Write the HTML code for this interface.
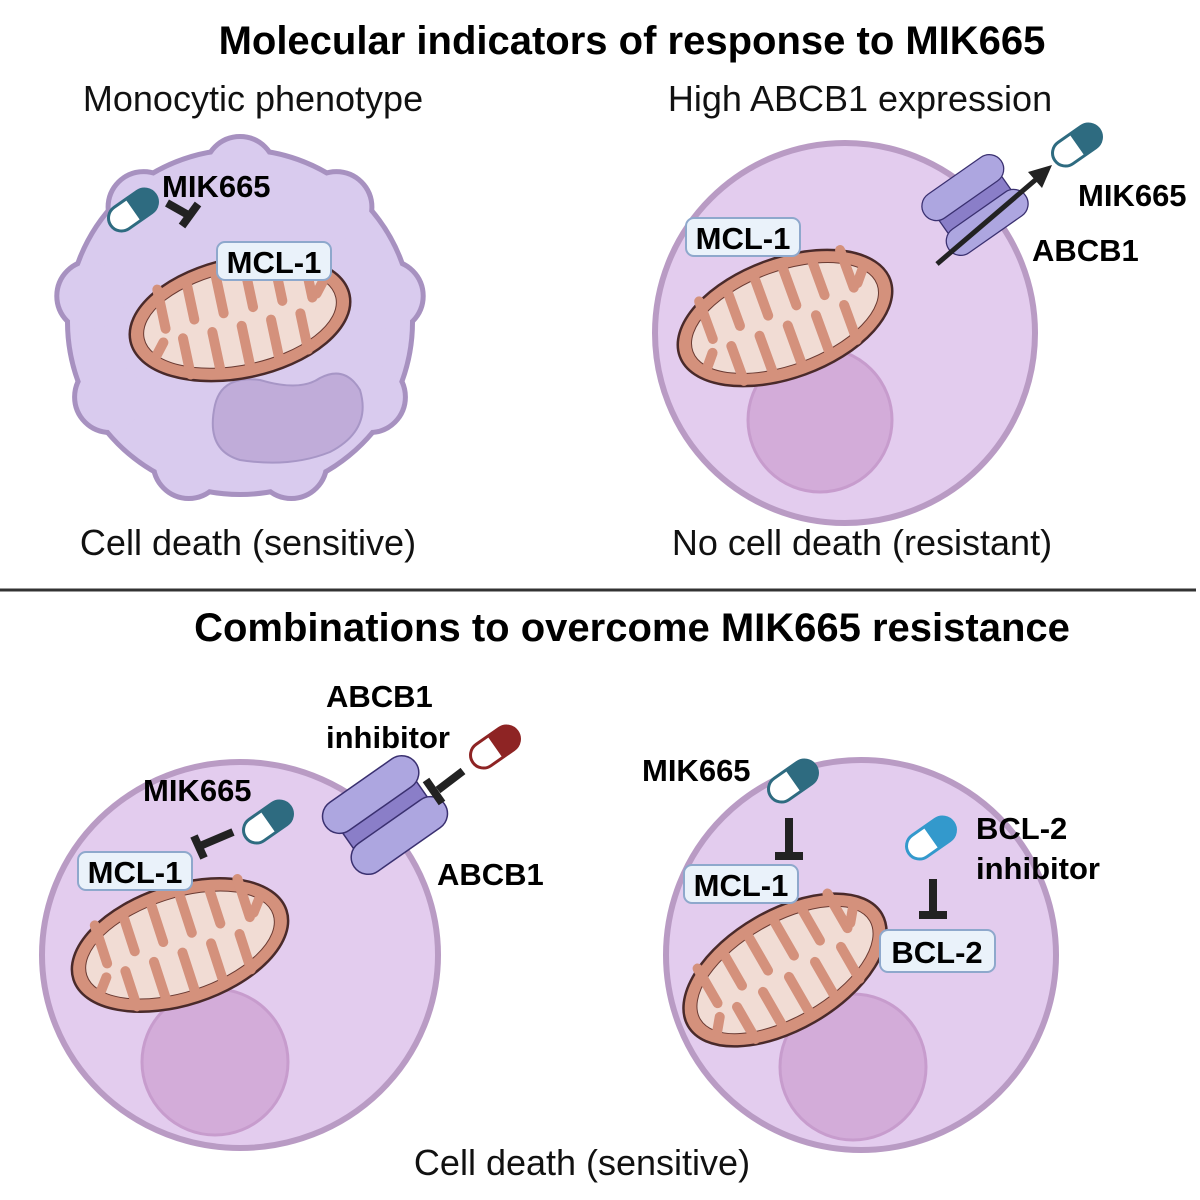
<!DOCTYPE html>
<html><head><meta charset="utf-8"><style>
html,body{margin:0;padding:0;background:#fff;}
svg{display:block}
text{font-family:"Liberation Sans",Arial,sans-serif;}
.t{font-weight:bold;font-size:40px;fill:#000;}
.s{font-size:36px;fill:#111;}
.b{font-weight:bold;font-size:31px;fill:#000;}
.lbl{font-weight:bold;font-size:31px;fill:#000;}
</style></head><body>
<svg width="1200" height="1200" viewBox="0 0 1200 1200" xmlns="http://www.w3.org/2000/svg">
<defs>
 <g id="mito">
  <ellipse rx="112" ry="60" fill="#d4917c" stroke="#4a2a2a" stroke-width="2.5"/>
  <ellipse rx="98" ry="47" fill="#f1dcd4" stroke="#6a3a32" stroke-width="1"/>
  <g stroke="#d4917c" stroke-width="10" stroke-linecap="round">
   <line x1="-75" y1="-45" x2="-75" y2="-5"/><line x1="-45" y1="-48" x2="-45" y2="-8"/>
   <line x1="-15" y1="-48" x2="-15" y2="-8"/><line x1="15" y1="-48" x2="15" y2="-8"/>
   <line x1="45" y1="-48" x2="45" y2="-8"/><line x1="75" y1="-45" x2="75" y2="-5"/>
   <line x1="-60" y1="45" x2="-60" y2="8"/><line x1="-30" y1="48" x2="-30" y2="8"/>
   <line x1="0" y1="48" x2="0" y2="8"/><line x1="30" y1="48" x2="30" y2="8"/>
   <line x1="60" y1="45" x2="60" y2="8"/><line x1="-90" y1="20" x2="-80" y2="8"/>
   <line x1="90" y1="-20" x2="80" y2="-8"/>
  </g>
 </g>
 <g id="pump">
  <path d="M-45,-12 L45,-25 L45,25 L-45,12 Z" fill="#8a7ec8" stroke="#3a3070" stroke-width="1.5"/>
  <rect x="-55" y="-42" width="110" height="34" rx="17" fill="#ada6e0" stroke="#3a3070" stroke-width="1.5"/>
  <rect x="-55" y="8" width="110" height="34" rx="17" fill="#ada6e0" stroke="#3a3070" stroke-width="1.5"/>
 </g>
</defs>

<text class="t" x="632" y="54" text-anchor="middle">Molecular indicators of response to MIK665</text>
<text class="s" x="253" y="111" text-anchor="middle">Monocytic phenotype</text>
<text class="s" x="860" y="111" text-anchor="middle">High ABCB1 expression</text>

<!-- top-left wavy cell -->
<g transform="translate(240,322)">
 <g fill="#a791c0" stroke="#a791c0" stroke-width="10">
  <circle r="170"/>
  <circle cx="0" cy="-150" r="33"/><circle cx="96.4" cy="-114.9" r="33"/><circle cx="147.7" cy="-26" r="33"/>
  <circle cx="129.9" cy="75" r="33"/><circle cx="51.3" cy="141" r="33"/><circle cx="-51.3" cy="141" r="33"/>
  <circle cx="-129.9" cy="75" r="33"/><circle cx="-147.7" cy="-26" r="33"/><circle cx="-96.4" cy="-114.9" r="33"/>
 </g>
 <g fill="#d9cbee">
  <circle r="170"/>
  <circle cx="0" cy="-150" r="33"/><circle cx="96.4" cy="-114.9" r="33"/><circle cx="147.7" cy="-26" r="33"/>
  <circle cx="129.9" cy="75" r="33"/><circle cx="51.3" cy="141" r="33"/><circle cx="-51.3" cy="141" r="33"/>
  <circle cx="-129.9" cy="75" r="33"/><circle cx="-147.7" cy="-26" r="33"/><circle cx="-96.4" cy="-114.9" r="33"/>
 </g>
</g>
<path d="M215,405 Q222,375 260,380 Q300,392 320,378 Q345,365 360,390 Q372,430 330,452 Q290,468 240,460 Q205,450 215,405 Z" fill="#c0acd9" stroke="#a796c6" stroke-width="2"/>
<use href="#mito" transform="translate(240,318) rotate(-12)"/>
<g transform="translate(133,210) rotate(-35)">
 <rect x="-27" y="-13" width="54" height="26" rx="13" fill="#fff" stroke="#2e6b80" stroke-width="3"/>
 <path d="M0,-13 H14 A13,13 0 0 1 14,13 H0 Z" fill="#2e6b80"/>
</g>
<text class="b" x="162" y="197">MIK665</text>
<g stroke="#222" stroke-width="8"><line x1="167" y1="203" x2="190" y2="216"/><line x1="182" y1="226" x2="198" y2="204"/></g>
<rect x="217" y="242" width="114" height="38" rx="8" fill="#eaf2fa" stroke="#8ea8cc" stroke-width="2"/>
<text class="lbl" x="274" y="273" text-anchor="middle">MCL-1</text>
<text class="s" x="248" y="555" text-anchor="middle">Cell death (sensitive)</text>

<!-- top-right cell -->
<circle cx="845" cy="333" r="190" fill="#e3ccee" stroke="#b99bc4" stroke-width="6"/>
<circle cx="820" cy="420" r="72" fill="#d3acd9" stroke="#c79ccd" stroke-width="3"/>
<use href="#mito" transform="translate(785,318) rotate(-20)"/>
<rect x="686" y="218" width="114" height="38" rx="8" fill="#eaf2fa" stroke="#8ea8cc" stroke-width="2"/>
<text class="lbl" x="743" y="249" text-anchor="middle">MCL-1</text>
<use href="#pump" transform="translate(975,205) rotate(-35) scale(0.85)"/>
<line x1="937" y1="264" x2="1040" y2="176" stroke="#222" stroke-width="5"/>
<path d="M1052,165 L1028,172 L1042,188 Z" fill="#222"/>
<g transform="translate(1077,145) rotate(-35)">
 <rect x="-27" y="-13" width="54" height="26" rx="13" fill="#fff" stroke="#2e6b80" stroke-width="3"/>
 <path d="M0,-13 H14 A13,13 0 0 1 14,13 H0 Z" fill="#2e6b80"/>
</g>
<text class="b" x="1078" y="206">MIK665</text>
<text class="b" x="1032" y="261">ABCB1</text>
<text class="s" x="862" y="555" text-anchor="middle">No cell death (resistant)</text>

<line x1="0" y1="590" x2="1196" y2="590" stroke="#333" stroke-width="3"/>
<text class="t" x="632" y="641" text-anchor="middle">Combinations to overcome MIK665 resistance</text>

<!-- bottom-left cell -->
<ellipse cx="240" cy="955" rx="198" ry="193" fill="#e3ccee" stroke="#b99bc4" stroke-width="6"/>
<circle cx="215" cy="1062" r="73" fill="#d3acd9" stroke="#c79ccd" stroke-width="3"/>
<use href="#mito" transform="translate(180,945) rotate(-18)"/>
<rect x="78" y="852" width="114" height="38" rx="8" fill="#eaf2fa" stroke="#8ea8cc" stroke-width="2"/>
<text class="lbl" x="135" y="883" text-anchor="middle">MCL-1</text>
<text class="b" x="143" y="801">MIK665</text>
<g transform="translate(268,822) rotate(-35)">
 <rect x="-27" y="-13" width="54" height="26" rx="13" fill="#fff" stroke="#2e6b80" stroke-width="3"/>
 <path d="M0,-13 H14 A13,13 0 0 1 14,13 H0 Z" fill="#2e6b80"/>
</g>
<g stroke="#222" stroke-width="8"><line x1="233" y1="832" x2="200" y2="846"/><line x1="194" y1="836" x2="204" y2="858"/></g>
<use href="#pump" transform="translate(385,815) rotate(-35)"/>
<g transform="translate(495,747) rotate(-35)">
 <rect x="-27" y="-13" width="54" height="26" rx="13" fill="#fff" stroke="#8e2424" stroke-width="3"/>
 <path d="M0,-13 H14 A13,13 0 0 1 14,13 H0 Z" fill="#8e2424"/>
</g>
<g stroke="#222" stroke-width="8"><line x1="463" y1="771" x2="438" y2="790"/><line x1="426" y1="780" x2="442" y2="803"/></g>
<text class="b" x="326" y="707">ABCB1</text>
<text class="b" x="326" y="748">inhibitor</text>
<text class="b" x="437" y="885">ABCB1</text>

<!-- bottom-right cell -->
<circle cx="861" cy="955" r="195" fill="#e3ccee" stroke="#b99bc4" stroke-width="6"/>
<circle cx="853" cy="1067" r="73" fill="#d3acd9" stroke="#c79ccd" stroke-width="3"/>
<use href="#mito" transform="translate(785,970) rotate(-30)"/>
<rect x="684" y="865" width="114" height="38" rx="8" fill="#eaf2fa" stroke="#8ea8cc" stroke-width="2"/>
<text class="lbl" x="741" y="896" text-anchor="middle">MCL-1</text>
<rect x="880" y="930" width="115" height="42" rx="8" fill="#eaf2fa" stroke="#8ea8cc" stroke-width="2"/>
<text class="lbl" x="937" y="963" text-anchor="middle">BCL-2</text>
<text class="b" x="642" y="781">MIK665</text>
<g transform="translate(793,781) rotate(-35)">
 <rect x="-27" y="-13" width="54" height="26" rx="13" fill="#fff" stroke="#2e6b80" stroke-width="3"/>
 <path d="M0,-13 H14 A13,13 0 0 1 14,13 H0 Z" fill="#2e6b80"/>
</g>
<g stroke="#222" stroke-width="8"><line x1="789" y1="818" x2="789" y2="856"/><line x1="775" y1="856" x2="803" y2="856"/></g>
<g transform="translate(931,838) rotate(-35)">
 <rect x="-27" y="-13" width="54" height="26" rx="13" fill="#fff" stroke="#3399cc" stroke-width="3"/>
 <path d="M0,-13 H14 A13,13 0 0 1 14,13 H0 Z" fill="#3399cc"/>
</g>
<g stroke="#222" stroke-width="8"><line x1="933" y1="879" x2="933" y2="915"/><line x1="919" y1="915" x2="947" y2="915"/></g>
<text class="b" x="976" y="839">BCL-2</text>
<text class="b" x="976" y="879">inhibitor</text>

<text class="s" x="582" y="1175" text-anchor="middle">Cell death (sensitive)</text>
</svg>
</body></html>
